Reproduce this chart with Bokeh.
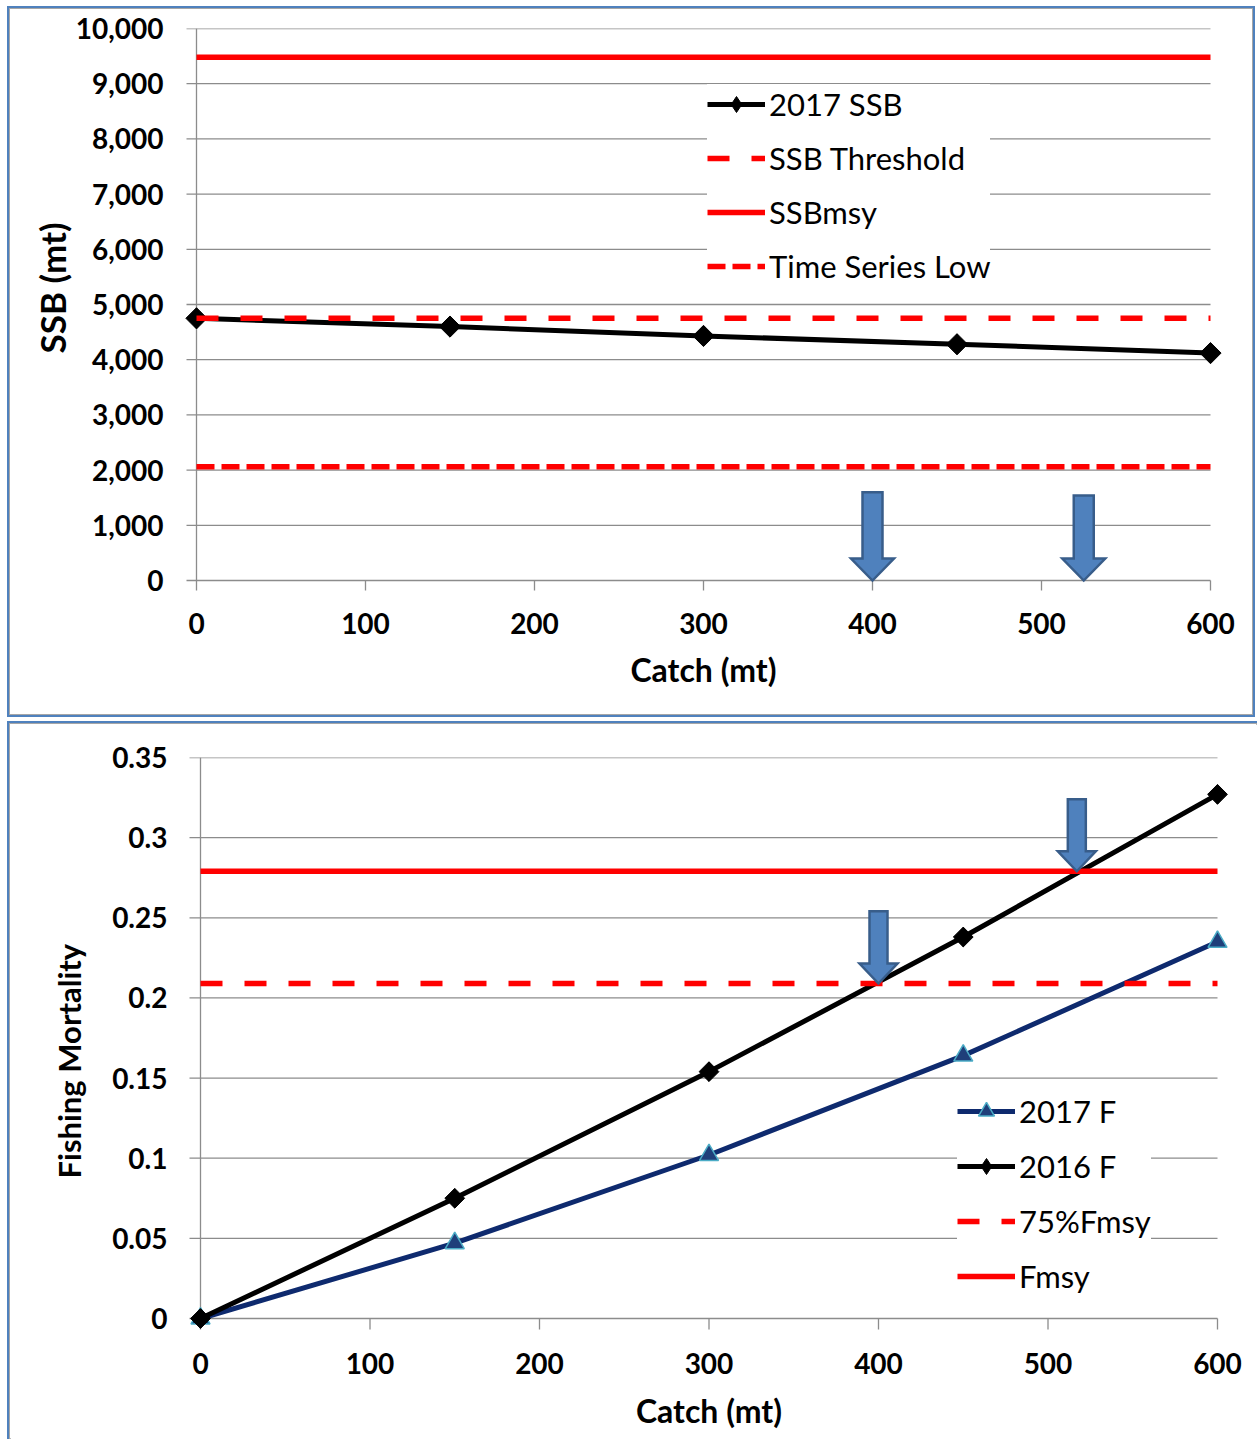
from bokeh.plotting import figure
from bokeh.layouts import column
from bokeh.models import Range1d, FixedTicker, Legend, LegendItem, Title
from bokeh.embed import file_html
from bokeh.resources import INLINE

# ---------------- data ----------------
catch = [0, 150, 300, 450, 600]

ssb_2017 = [4750, 4600, 4430, 4280, 4120]
ssb_threshold = 4750
ssb_msy = 9480
ssb_time_series_low = 2060

f_2017 = [0.0, 0.047, 0.102, 0.164, 0.235]
f_2016 = [0.0, 0.075, 0.154, 0.238, 0.327]
f_msy = 0.279
f_75_msy = 0.209

catch_ticks = [0, 100, 200, 300, 400, 500, 600]
catch_tick_labels = ["0", "100", "200", "300", "400", "500", "600"]
ssb_ticks = [0, 1000, 2000, 3000, 4000, 5000, 6000, 7000, 8000, 9000, 10000]
ssb_tick_labels = ["0", "1,000", "2,000", "3,000", "4,000", "5,000", "6,000",
                   "7,000", "8,000", "9,000", "10,000"]
f_ticks = [0, 0.05, 0.1, 0.15, 0.2, 0.25, 0.3, 0.35]
f_tick_labels = ["0", "0.05", "0.1", "0.15", "0.2", "0.25", "0.3", "0.35"]

# call-out arrows: catch level, value at the arrow tip, value at the arrow tail
ssb_arrow_catch = [400, 525]
ssb_arrow_tip = [0, 0]
ssb_arrow_tail = [1600, 1540]
f_arrow_catch = [400, 517]
f_arrow_tip = [f_75_msy, f_msy]
f_arrow_tail = [0.254, 0.324]

# ---------------- styling ----------------
RED = "#FF0000"
NAVY = "#0E2A6E"
GRID = "#8C8C8C"
ARROW_FILL = "#4F81BD"
ARROW_EDGE = "#385D8A"
FONT = "Lato"
TICK_FONT_SIZE = "28px"
TITLE_FONT_SIZE = "32px"
LEGEND_FONT_SIZE = "31px"
DIAMOND = 0.785398  # square marker turned 45 degrees


def panel(width, height, plot_px, x_domain, y_domain, pad):
    """Figure whose data rectangle spans plot_px (x0, x1, y_top, y_bottom) in
    canvas pixels, with a few pixels of slack left/right/below for markers."""
    x0, x1, yt, yb = plot_px
    sx = (x1 - x0) / (x_domain[1] - x_domain[0])
    sy = (yb - yt) / (y_domain[1] - y_domain[0])
    xr = Range1d(x_domain[0] - pad / sx, x_domain[1] + pad / sx)
    yr = Range1d(y_domain[0] - pad / sy, y_domain[1])
    p = figure(width=width, height=height, x_range=xr, y_range=yr,
               output_backend="svg", toolbar_location=None,
               min_border_left=x0 - pad, min_border_right=width - x1 - pad,
               min_border_top=yt, min_border_bottom=height - yb - pad)
    p.outline_line_color = None
    p.xgrid.visible = False
    p.ygrid.visible = False
    p.background_fill_color = "white"
    p.border_fill_color = "white"
    return p, sx, sy


def framed(p, sides, padding, margin):
    st = {"background-color": "white", "padding": padding,
          "box-shadow": "inset 0 0 0 1px #A6A6A6"}
    for side in sides:
        st["border-" + side] = "2px solid #4F81BD"
    return column(p, styles=st, margin=margin, spacing=0)


def style_axes(p, xticks, xlabels, yticks, ylabels, xtitle,
               x_standoff, xtitle_standoff, y_standoff):
    for ax in (p.xaxis[0], p.yaxis[0]):
        ax.axis_line_color = None
        ax.major_tick_line_color = None
        ax.minor_tick_line_color = None
        ax.major_tick_in = 0
        ax.major_tick_out = 0
        ax.major_label_text_font = FONT
        ax.major_label_text_font_style = "bold"
        ax.major_label_text_font_size = TICK_FONT_SIZE
        ax.major_label_text_color = "black"
        ax.axis_label_text_font = FONT
        ax.axis_label_text_font_style = "bold"
        ax.axis_label_text_font_size = TITLE_FONT_SIZE
        ax.axis_label_text_color = "black"
    p.xaxis.ticker = FixedTicker(ticks=xticks)
    p.yaxis.ticker = FixedTicker(ticks=yticks)
    p.xaxis.major_label_overrides = {t: s for t, s in zip(xticks, xlabels)}
    p.yaxis.major_label_overrides = {t: s for t, s in zip(yticks, ylabels)}
    p.xaxis.axis_label = xtitle
    p.xaxis.major_label_standoff = x_standoff
    p.yaxis.major_label_standoff = y_standoff
    p.xaxis.axis_label_standoff = xtitle_standoff


def y_title(p, text, offset, standoff, size):
    """Vertical axis title, starting `offset` px above the bottom of the plot."""
    p.add_layout(Title(text=text, align="left", offset=offset,
                       standoff=standoff, text_font=FONT,
                       text_font_style="bold", text_font_size=size,
                       text_color="black"), "left")


def frame_lines(p, sx, sy, xticks, yticks, tick_len):
    # horizontal gridlines (extended left as tick marks)
    n = len(yticks)
    p.segment(x0=[xticks[0] - tick_len / sx] * n, y0=yticks,
              x1=[xticks[-1]] * n, y1=yticks, line_color=GRID, line_width=1.3)
    # vertical axis line at zero catch
    p.segment(x0=[xticks[0]], y0=[yticks[0]], x1=[xticks[0]], y1=[yticks[-1]],
              line_color=GRID, line_width=1.3)
    # catch tick marks below the horizontal axis
    m = len(xticks)
    p.segment(x0=xticks, y0=[yticks[0]] * m, x1=xticks,
              y1=[yticks[0] - tick_len / sy] * m, line_color=GRID, line_width=1.3)


def arrows(p, sx, sy, xs, tips, tails, shaft_px, head_w_px, head_h_px):
    pxs, pys = [], []
    for x, tip, tail in zip(xs, tips, tails):
        sw = shaft_px / 2 / sx
        hw = head_w_px / 2 / sx
        hy = tip + head_h_px / sy
        pxs.append([x - sw, x + sw, x + sw, x + hw, x, x - hw, x - sw])
        pys.append([tail, tail, hy, hy, tip, hy, hy])
    p.patches(pxs, pys, fill_color=ARROW_FILL, line_color=ARROW_EDGE,
              line_width=2.5, line_join="miter")


def make_legend(p, items, loc, spacing):
    leg = Legend(items=items, location=loc)
    leg.label_text_font = FONT
    leg.label_text_font_size = LEGEND_FONT_SIZE
    leg.label_text_color = "black"
    leg.glyph_width = 58
    leg.glyph_height = 40
    leg.label_height = 40
    leg.label_standoff = 4
    leg.spacing = spacing
    leg.padding = 12
    leg.margin = 0
    leg.border_line_color = None
    leg.background_fill_color = "white"
    leg.background_fill_alpha = 1.0
    p.add_layout(leg)


x_span = [catch_ticks[0], catch_ticks[-1]]

# ---------------- SSB panel ----------------
p1, sx1, sy1 = panel(1242, 705, (186, 1200, 19, 571),
                     (catch_ticks[0], catch_ticks[-1]),
                     (ssb_ticks[0], ssb_ticks[-1]), 20)
style_axes(p1, catch_ticks, catch_tick_labels, ssb_ticks, ssb_tick_labels,
           "Catch (mt)", 12, 13, 13)
y_title(p1, "SSB (mt)", 247, 0, "35px")
frame_lines(p1, sx1, sy1, catch_ticks, ssb_ticks, 10)

r_ssb_line = p1.line(catch, ssb_2017, line_color="black", line_width=5)
# slim diamonds (used for the legend key) sit under the square markers
r_ssb_key = p1.scatter(catch, ssb_2017, marker="diamond", size=20,
                       fill_color="black", line_color="black")
r_ssb_pts = p1.scatter(catch, ssb_2017, marker="square", angle=DIAMOND,
                       size=15, fill_color="black", line_color="black")
r_thr = p1.line(x_span, [ssb_threshold] * 2, line_color=RED, line_width=5.5,
                line_dash="22 22")
r_msy = p1.line(x_span, [ssb_msy] * 2, line_color=RED, line_width=5.5)
r_low = p1.line(x_span, [ssb_time_series_low] * 2, line_color=RED,
                line_width=5.5, line_dash="18 7")
arrows(p1, sx1, sy1, ssb_arrow_catch, ssb_arrow_tip, ssb_arrow_tail, 20, 43, 22)

make_legend(p1, [
    LegendItem(label="2017 SSB", renderers=[r_ssb_line, r_ssb_key]),
    LegendItem(label="SSB Threshold", renderers=[r_thr]),
    LegendItem(label="SSBmsy", renderers=[r_msy]),
    LegendItem(label="Time Series Low", renderers=[r_low]),
], (531, 314), 14)

# ---------------- fishing mortality panel ----------------
p2, sx2, sy2 = panel(1247, 715, (190, 1207, 33, 594),
                     (catch_ticks[0], catch_ticks[-1]),
                     (f_ticks[0], f_ticks[-1]), 20)
style_axes(p2, catch_ticks, catch_tick_labels, f_ticks, f_tick_labels,
           "Catch (mt)", 14, 14, 13)
y_title(p2, "Fishing Mortality", 160, 43, "31px")
frame_lines(p2, sx2, sy2, catch_ticks, f_ticks, 11)

r_f17_line = p2.line(catch, f_2017, line_color=NAVY, line_width=5)
r_f17_pts = p2.scatter(catch, f_2017, marker="triangle", size=19,
                       fill_color="#1F3F7A", line_color="#4BACC6", line_width=1.5)
r_f16_line = p2.line(catch, f_2016, line_color="black", line_width=5)
r_f16_key = p2.scatter(catch, f_2016, marker="diamond", size=19,
                       fill_color="black", line_color="black")
r_f16_pts = p2.scatter(catch, f_2016, marker="square", angle=DIAMOND,
                       size=14, fill_color="black", line_color="black")
r_f75 = p2.line(x_span, [f_75_msy] * 2, line_color=RED, line_width=5.5,
                line_dash="22 22")
r_fmsy = p2.line(x_span, [f_msy] * 2, line_color=RED, line_width=5.5)
arrows(p2, sx2, sy2, f_arrow_catch, f_arrow_tip, f_arrow_tail, 18, 38, 20)

make_legend(p2, [
    LegendItem(label="2017 F", renderers=[r_f17_line, r_f17_pts]),
    LegendItem(label="2016 F", renderers=[r_f16_line, r_f16_key]),
    LegendItem(label="75%Fmsy", renderers=[r_f75]),
    LegendItem(label="Fmsy", renderers=[r_fmsy]),
], (777, 42), 15)

top = framed(p1, ("top", "right", "bottom", "left"), "1px", (6, 0, 0, 7))
bottom = framed(p2, ("top", "left"), "1px 0px 0px 1px", (4, 0, 0, 7))

layout = column(top, bottom, spacing=0)
layout.margin = 0

open("out.html", "w").write(file_html(layout, INLINE, title="SSB and F projections"))
